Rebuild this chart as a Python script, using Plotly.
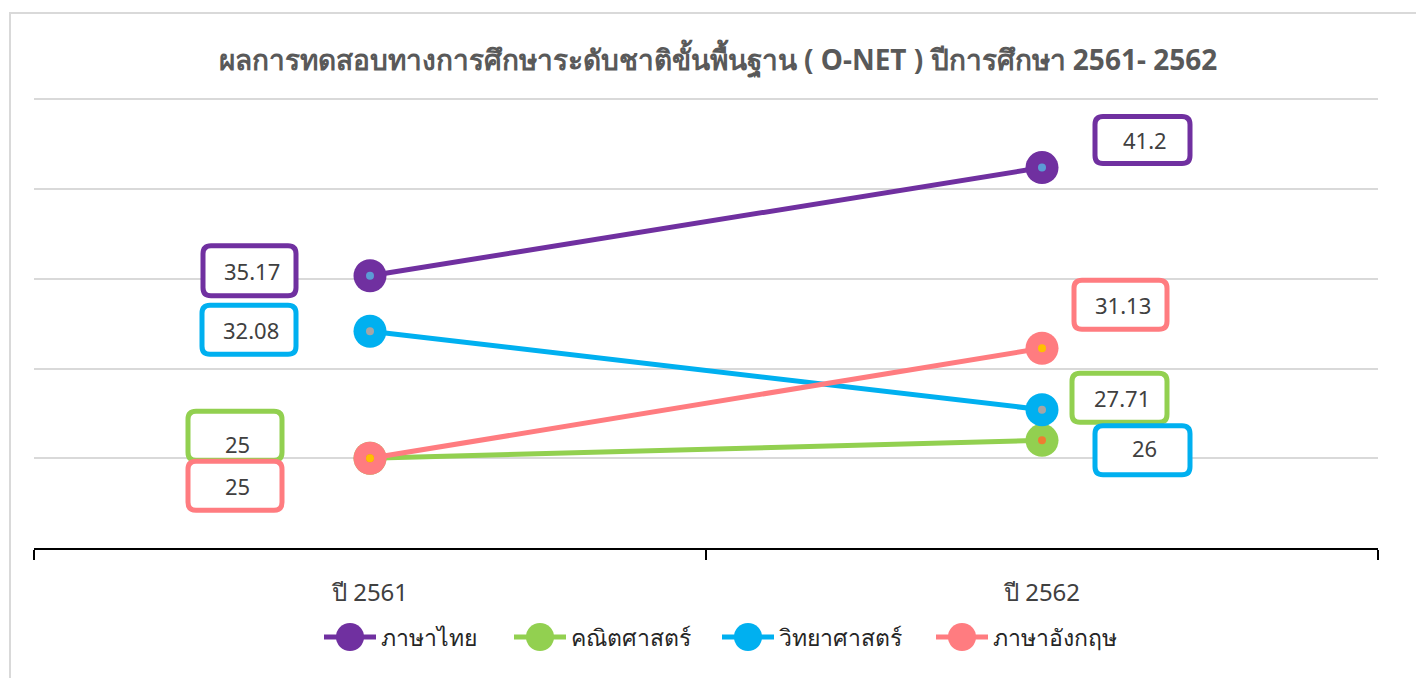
import plotly.graph_objects as go

# ---------------- data ----------------
categories = ["ปี 2561", "ปี 2562"]
series_names = ["ภาษาไทย", "คณิตศาสตร์", "วิทยาศาสตร์", "ภาษาอังกฤษ"]
thai_vals = [35.17, 41.2]
math_vals = [25, 26]
sci_vals = [32.08, 27.71]
eng_vals = [25, 31.13]
# data-label texts as printed on the chart
thai_labels = ["35.17", "41.2"]
math_labels = ["25", "27.71"]
sci_labels = ["32.08", "26"]
eng_labels = ["25", "31.13"]
title_text = "ผลการทดสอบทางการศึกษาระดับชาติขั้นพื้นฐาน ( O-NET ) ปีการศึกษา 2561- 2562"

# ---------------- style ----------------
W, H = 1416, 678
ML, MR, MT, MB = 34, 38, 94, 130
colors = ["#7030A0", "#92D050", "#00B0F0", "#FF7C80"]
dot_colors = ["#5B9BD5", "#ED7D31", "#A5A5A5", "#FFC000"]
FONT = "Noto Sans, DejaVu Sans, sans-serif"
values = [thai_vals, math_vals, sci_vals, eng_vals]
labels = [thai_labels, math_labels, sci_labels, eng_labels]

# label box offsets (pixels, relative to the point; y positive = up): (x0, x1, y0, y1)
box_offsets = [
    [(-167, -74, -20, 30), (53, 148, 4, 51)],
    [(-182, -88, -2, 47), (30, 125, 18, 67)],
    [(-168, -74, -23, 26), (53, 148, -65, -16)],
    [(-182, -88, -52, -3), (32, 125, 19, 68)],
]
# extra vertical text shift inside boxes (pixels)
text_dy = [[0, 0], [-8, 0], [0, 2], [0, 0]]

fig = go.Figure()
for name, vals, c in zip(series_names, values, colors):
    fig.add_trace(go.Scatter(
        x=categories, y=vals, name=name, mode="lines+markers",
        line=dict(color=c, width=5),
        marker=dict(size=33, color=c, line=dict(width=0)),
        showlegend=False, hoverinfo="skip"))
for vals, dc in zip(values, dot_colors):
    fig.add_trace(go.Scatter(
        x=categories, y=vals, mode="markers",
        marker=dict(size=8, color=dc, line=dict(width=0)),
        showlegend=False, hoverinfo="skip"))


def rounded_path(x0, x1, y0, y1, r=8):
    return (f"M {x0 + r},{y0} L {x1 - r},{y0} Q {x1},{y0} {x1},{y0 + r} "
            f"L {x1},{y1 - r} Q {x1},{y1} {x1 - r},{y1} L {x0 + r},{y1} "
            f"Q {x0},{y1} {x0},{y1 - r} L {x0},{y0 + r} Q {x0},{y0} {x0 + r},{y0} Z")


shapes = []
annotations = []
for si, (vals, labs, c) in enumerate(zip(values, labels, colors)):
    for ci in range(len(categories)):
        x0, x1, y0, y1 = box_offsets[si][ci]
        shapes.append(dict(
            type="path", xref="x", yref="y",
            xsizemode="pixel", ysizemode="pixel",
            xanchor=ci, yanchor=vals[ci],
            path=rounded_path(x0, x1, y0, y1),
            line=dict(color=c, width=5), fillcolor="white", layer="above"))
        annotations.append(dict(
            x=ci, y=vals[ci], xref="x", yref="y", text=labs[ci],
            showarrow=False, xshift=(x0 + x1) / 2 + 2,
            yshift=(y0 + y1) / 2 + text_dy[si][ci],
            font=dict(size=22, color="#404040", family=FONT)))

# outer chart border
pw = W - ML - MR
ph = H - MT - MB
def px2paper_x(px):
    return (px - ML) / pw
def px2paper_y(py):
    return (H - MB - py) / ph

shapes.append(dict(type="rect", xref="paper", yref="paper",
                   x0=px2paper_x(10), x1=px2paper_x(1430),
                   y0=px2paper_y(690), y1=px2paper_y(13),
                   line=dict(color="#D9D9D9", width=2), layer="below"))

# custom legend (large markers)
legend_y = px2paper_y(637)
legend_x = [350, 540, 748, 962]
for name, lx, c, dc in zip(series_names, legend_x, colors, dot_colors):
    shapes.append(dict(type="line", xref="paper", yref="paper",
                       xsizemode="pixel", ysizemode="pixel",
                       xanchor=px2paper_x(lx), yanchor=legend_y,
                       x0=-26, x1=26, y0=0, y1=0,
                       line=dict(color=c, width=5)))
    shapes.append(dict(type="circle", xref="paper", yref="paper",
                       xsizemode="pixel", ysizemode="pixel",
                       xanchor=px2paper_x(lx), yanchor=legend_y,
                       x0=-14, x1=14, y0=-14, y1=14,
                       fillcolor=c, line=dict(width=0)))
    annotations.append(dict(x=px2paper_x(lx + 29), y=legend_y, xref="paper", yref="paper",
                            text=name, showarrow=False, xanchor="left", yanchor="middle",
                            font=dict(size=23, color="#262626", family=FONT)))

fig.update_layout(
    width=W, height=H,
    margin=dict(l=ML, r=MR, t=MT, b=MB),
    paper_bgcolor="white", plot_bgcolor="white",
    title=dict(text=title_text, x=718 / W, xref="container", xanchor="center",
               y=1 - 60 / H, yref="container", yanchor="middle",
               font=dict(size=28, color="#595959", family=FONT, weight="bold")),
    xaxis=dict(type="category", categoryorder="array", categoryarray=categories,
               showline=True, linecolor="black", linewidth=1.5,
               ticks="outside", tickson="boundaries", ticklen=10, tickcolor="black",
               tickwidth=1.5, showgrid=False, ticklabelstandoff=22,
               tickfont=dict(size=24, color="#404040", family=FONT),
               range=[-0.5, 1.5], fixedrange=True),
    yaxis=dict(range=[20, 45.3], dtick=5, tick0=0, showticklabels=False,
               showgrid=True, gridcolor="#D9D9D9", gridwidth=1.5,
               zeroline=False, showline=False, fixedrange=True),
    shapes=shapes, annotations=annotations, showlegend=False,
)

fig.write_html("out.html", config={"displayModeBar": False},
               post_script="document.body.style.margin='0';document.body.style.overflow='hidden';")
